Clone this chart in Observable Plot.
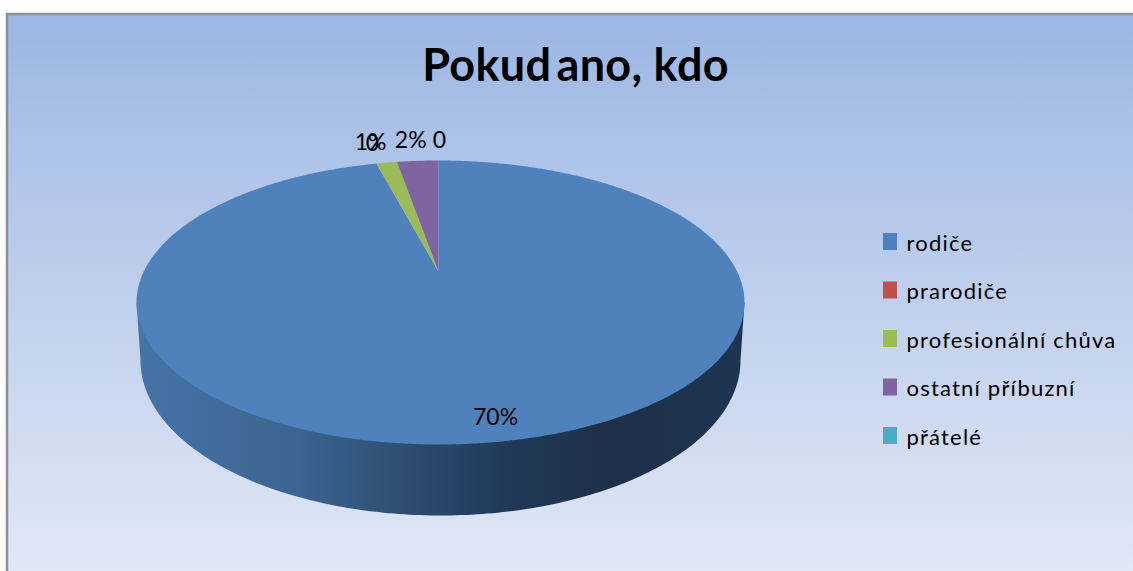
<!DOCTYPE html>
<html lang="cs">
<head>
<meta charset="utf-8">
<title>Pokud ano, kdo</title>
<style>html,body{margin:0;padding:0;background:#fff;overflow:hidden}</style>
<script src="https://cdn.jsdelivr.net/npm/d3@7"></script>
<script src="https://cdn.jsdelivr.net/npm/@observablehq/plot@0.6"></script>
</head>
<body>
<div id="chart"></div>
<script>
const titleText = "Pokud ano, kdo";
const categories = ["rodiče", "prarodiče", "profesionální chůva", "ostatní příbuzní", "přátelé"];
const values = [70, 0, 1, 2, 0];
const valueLabels = ["70%", "0", "1%", "2%", "0"];
const sliceColors = ["#4f81bd", "#c0504d", "#9bbb59", "#8064a2", "#4bacc6"];

// Layout of the 3D disc (perspective projection of a unit circle)
const W = 1133, H = 571;
const apex = {x: 438, y: 271}, farDrop = 111, nearDrop = 173;
const k = (nearDrop - farDrop) / (nearDrop + farDrop);
const b = farDrop * (1 + k);
const aRight = 306 * Math.sqrt(1 - k * k), aLeft = 302 * Math.sqrt(1 - k * k);
const project = (deg, r = 1) => {
  const t = deg * Math.PI / 180, u = r * Math.sin(t), v = r * Math.cos(t), w = 1 + k * v;
  return {x: apex.x + (u > 0 ? aRight : aLeft) * u / w, y: apex.y - b * v / w};
};
const base = {x: 440, y: 360, rx: 300, ry: 155};
const widestAngle = Math.acos(-k) * 180 / Math.PI;

const total = d3.sum(values);
let acc = 0;
const slices = categories.map((category, i) => {
  const start = acc / total * 360; acc += values[i];
  return {category, start, end: acc / total * 360, label: valueLabels[i], i};
});
const wedgePoints = slices.flatMap(s => {
  const n = Math.max(1, Math.ceil((s.end - s.start) / 0.5));
  const arc = d3.range(n + 1).map(j => project(s.start + (s.end - s.start) * j / n));
  return [apex, ...arc, apex].map(p => ({...p, category: s.category}));
});
const sidePoints = [project(360 - widestAngle), ...d3.range(0, 181, 1).map(d => {
  const t = (180 - d) * Math.PI / 180;
  return {x: base.x + base.rx * Math.cos(t), y: base.y + base.ry * Math.sin(t)};
}), project(widestAngle)];

// Data labels: edge point at each slice's middle angle, then nudged as in the picture
const labelNudge = [[8, -25], [-4, -20], [-16, -20], [-7, -20], [1, -20]];
const dataLabels = slices.map(s => {
  const p = project((s.start + s.end) / 2);
  return {text: s.label, x: p.x + labelNudge[s.i][0], y: p.y + labelNudge[s.i][1]};
});

const legendRows = categories.map((category, i) => ({category, y: 243 + i * 48.5}));

const defs = () => {
  const d = d3.create("svg:defs");
  const bg = d.append("linearGradient").attr("id", "bg").attr("x1", 0).attr("x2", 0).attr("y1", 0).attr("y2", 1);
  [[0, "#9bb6e3"], [0.25, "#aec3e9"], [0.6, "#c6d4ee"], [1, "#e1e8f6"]].forEach(([o, c]) => bg.append("stop").attr("offset", o).attr("stop-color", c));
  const sd = d.append("linearGradient").attr("id", "side").attr("gradientUnits", "userSpaceOnUse").attr("x1", 136).attr("x2", 744).attr("y1", 0).attr("y2", 0);
  [[0, "#4674a5"], [0.26, "#3b6592"], [0.47, "#2c4a6e"], [0.6, "#213a58"], [0.78, "#1d3049"], [1, "#1e3552"]].forEach(([o, c]) => sd.append("stop").attr("offset", o).attr("stop-color", c));
  return d.node();
};
const spaced = (letter) => (index, scales, values, dimensions, context, next) => {
  const g = next(index, scales, values, dimensions, context);
  g.style.letterSpacing = letter + "px";
  return g;
};
// The first gap of the title is tighter than the second one
const titleRender = (index, scales, values, dimensions, context, next) => {
  const g = next(index, scales, values, dimensions, context);
  g.style.letterSpacing = "0.3px";
  const t = g.querySelector("text");
  const [first, ...rest] = titleText.split(" ");
  t.textContent = "";
  const span = d3.select(t).append("tspan").style("word-spacing", "-6px").text(first + " ");
  t.appendChild(document.createTextNode(rest.join(" ")));
  return g;
};

const font = "Lato, Carlito, 'Noto Sans', sans-serif";
const chart = Plot.plot({
  width: W, height: H,
  margin: 0,
  x: {domain: [0, W], range: [0, W], axis: null},
  y: {domain: [0, H], range: [0, H], axis: null},
  color: {domain: categories, range: sliceColors},
  style: {fontFamily: font, background: "#fff", color: "#000"},
  marks: [
    defs,
    Plot.rect([{}], {x1: () => 7, x2: () => W + 5, y1: () => 14, y2: () => H + 5, fill: "url(#bg)", stroke: "#8b8e9b", strokeWidth: 2.5}),
    Plot.line(sidePoints, {x: "x", y: "y", fill: "url(#side)", stroke: "none"}),
    Plot.line(wedgePoints, {x: "x", y: "y", z: "category", fill: "category", stroke: "none"}),
    Plot.text([titleText], {x: () => 575, y: () => 66, text: d => d, fontSize: 45, fontWeight: 700, fill: "#000", render: titleRender}),
    Plot.text(dataLabels, {x: "x", y: "y", text: "text", fontSize: 23, fill: "#000"}),
    Plot.rect(legendRows, {x1: () => 883, x2: () => 897, y1: d => d.y - 10, y2: d => d.y + 7, fill: "category"}),
    Plot.text(legendRows, {x: () => 906, y: "y", text: "category", textAnchor: "start", fontSize: 22, fill: "#000", render: spaced(1.2)})
  ]
});
document.getElementById("chart").appendChild(chart);
</script>
</body>
</html>
